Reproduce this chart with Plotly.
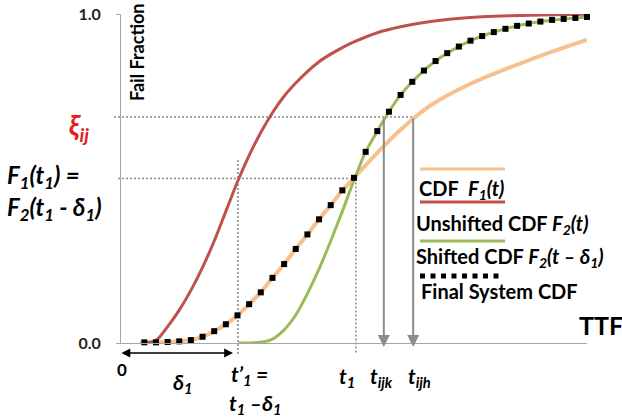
import plotly.graph_objects as go

# ---------------- data ----------------
# time axis: 0..100 (arbitrary units), fail fraction 0..1
t_f1 = [4, 5, 7.5, 10, 12.5, 15, 17.5, 20, 22.5, 25, 27.5, 30, 32.5, 35, 37.5, 40,
        42.5, 45, 47.5, 50, 55, 60, 65, 70, 75, 80, 85, 90, 95, 100]
cdf_f1 = [0, 0.001, 0.002, 0.003, 0.005, 0.009, 0.019, 0.036, 0.057, 0.084, 0.118,
          0.154, 0.198, 0.240, 0.286, 0.330, 0.376, 0.419, 0.464, 0.502, 0.578,
          0.648, 0.708, 0.752, 0.788, 0.818, 0.846, 0.873, 0.898, 0.921]

t_f2 = [4.7, 7.5, 10, 12.5, 15, 17.5, 20, 22.5, 25, 27.5, 30, 32.5, 35, 37.5, 40,
        42.5, 45, 47.5, 50, 55, 60, 65, 70, 75, 80, 90, 100]
cdf_f2 = [0, 0.008, 0.05, 0.10, 0.16, 0.23, 0.31, 0.40, 0.49, 0.57, 0.64, 0.70,
          0.75, 0.79, 0.825, 0.855, 0.878, 0.898, 0.915, 0.943, 0.961, 0.974, 0.983,
          0.989, 0.993, 0.997, 0.999]

t_f2s = [25.2, 27.5, 30, 32.5, 35, 37.5, 40, 42.5, 45, 47.5, 50, 52.5, 55, 57.5,
         60, 62.5, 65, 67.5, 70, 72.5, 75, 77.5, 80, 85, 90, 95, 100]
cdf_f2s = [0, 0, 0.002, 0.012, 0.04, 0.085, 0.15, 0.225, 0.31, 0.40, 0.495, 0.581,
           0.644, 0.703, 0.754, 0.794, 0.828, 0.857, 0.881, 0.901, 0.919, 0.933,
           0.945, 0.964, 0.977, 0.985, 0.991]

t_sys = [5, 7.5, 10, 12.5, 15, 17.5, 20, 22.5, 25, 27.5, 30, 32.5, 35, 37.5, 40,
         42.5, 45, 47.5, 50, 52.5, 55, 57.5, 60, 62.5, 65, 67.5, 70, 72.5, 75,
         77.5, 80, 82.5, 85, 87.5, 90, 92.5, 95, 97.5, 100]
cdf_sys = [0.002, 0.002, 0.003, 0.005, 0.009, 0.019, 0.036, 0.057, 0.084, 0.118,
           0.154, 0.198, 0.240, 0.286, 0.330, 0.376, 0.419, 0.464, 0.502, 0.581,
           0.644, 0.703, 0.754, 0.794, 0.828, 0.857, 0.881, 0.901, 0.919, 0.933,
           0.945, 0.955, 0.964, 0.971, 0.977, 0.982, 0.985, 0.988, 0.991]

t1_prime = 25.1     # t'1 = t1 - delta1
t1 = 50.4
t_ijk = 56.4
t_ijh = 62.7
level_f1 = 0.50     # F1(t1) = F2(t1 - delta1)
level_xi = 0.687    # xi_ij

ytick_vals = [0, 1]
ytick_text = ["0.0", "1.0"]

# ---------------- styles ----------------
ORANGE = "#F9C08F"
RED = "#C0504D"
GREEN = "#9BBB59"
GUIDE = "#8C8C8C"
AXIS = "#A6A6A6"
FONT = "Lato"

W, H = 622, 417
L, R, T, B = 121, 35, 14, 74
XR = [0, 100]
YR = [0, 1]
PW, PH = W - L - R, H - T - B


def fx(px):  # pixel -> paper x
    return (px - L) / PW


def fy(py):  # pixel -> paper y
    return (H - B - py) / PH


def xd(t):   # data x -> paper x
    return (t - XR[0]) / (XR[1] - XR[0])


def yd(v):   # data y -> paper y
    return (v - YR[0]) / (YR[1] - YR[0])


fig = go.Figure()

fig.add_trace(go.Scatter(x=t_f1, y=cdf_f1, mode="lines",
                         line=dict(color=ORANGE, width=4, shape="spline", smoothing=0.8),
                         hoverinfo="skip"))
fig.add_trace(go.Scatter(x=t_f2, y=cdf_f2, mode="lines",
                         line=dict(color=RED, width=3, shape="spline", smoothing=0.8),
                         hoverinfo="skip"))
fig.add_trace(go.Scatter(x=t_f2s, y=cdf_f2s, mode="lines",
                         line=dict(color=GREEN, width=3, shape="spline", smoothing=0.8),
                         hoverinfo="skip"))
fig.add_trace(go.Scatter(x=t_sys, y=cdf_sys, mode="markers",
                         marker=dict(symbol="square", size=6, color="black"),
                         hoverinfo="skip", cliponaxis=False))

# guide lines (dotted)
dot = dict(color=GUIDE, width=1.6, dash="2px,2px")
P = dict(xref="paper", yref="paper", layer="below")
fig.add_shape(type="line", x0=fx(114), x1=xd(t_ijh), y0=yd(level_xi), y1=yd(level_xi), line=dot, **P)
fig.add_shape(type="line", x0=fx(118), x1=xd(t1), y0=yd(level_f1), y1=yd(level_f1), line=dot, **P)
fig.add_shape(type="line", x0=xd(t1_prime), x1=xd(t1_prime), y0=fy(160), y1=fy(355), line=dot, **P)
fig.add_shape(type="line", x0=xd(t1), x1=xd(t1), y0=yd(level_f1), y1=fy(353), line=dot, **P)

# gray arrows down from xi level
xi_py = H - B - yd(level_xi) * PH
for tx in (t_ijk, t_ijh):
    fig.add_annotation(x=xd(tx), y=fy(347), xref="paper", yref="paper",
                       ax=0, ay=xi_py - 347, text="", showarrow=True,
                       arrowhead=2, arrowsize=1.2, arrowwidth=2, arrowcolor=GUIDE)

# black double arrow for delta1
fig.add_annotation(x=fx(233), y=fy(353), xref="paper", yref="paper",
                   ax=120 - 233, ay=0, text="", showarrow=True,
                   arrowhead=2, startarrowhead=2, arrowside="end+start",
                   arrowsize=1.1, startarrowsize=1.1, arrowwidth=1.6, arrowcolor="black")


def label(text, px, py, size, color="black", xanchor="center", angle=0):
    fig.add_annotation(x=fx(px), y=fy(py), xref="paper", yref="paper", text=text,
                       showarrow=False, xanchor=xanchor, yanchor="middle",
                       textangle=angle,
                       font=dict(family=FONT, size=size, color=color))


# x-axis labels
label("<b>0</b>", 122, 369, 17)
label("<b><i>δ<sub>1</sub></i></b>", 182, 383, 21)
label("<b><i>t’<sub>1</sub> =</i></b>", 249, 375, 21)
label("<b><i>t<sub>1</sub> –δ<sub>1</sub></i></b>", 255, 404, 21)
label("<b><i>t<sub>1</sub></i></b>", 347, 377, 21)
label("<b><i>t<sub>ijk</sub></i></b>", 381, 377, 21)
label("<b><i>t<sub>ijh</sub></i></b>", 419, 377, 21)
label("<b>TTF</b>", 601, 325, 25)

# left labels
label("<b><i>ξ<sub>ij</sub></i></b>", 79, 127, 28, color="#E3201B")
label("<b><i>F<sub>1</sub>(t<sub>1</sub>) =</i></b>", 5, 176, 24, xanchor="left")
label("<b><i>F<sub>2</sub>(t<sub>1</sub> - δ<sub>1</sub>)</i></b>", 5, 208, 24, xanchor="left")
label("<b>Fail Fraction</b>", 137, 53, 18, angle=-90)

# legend
LG = dict(xref="paper", yref="paper")
fig.add_shape(type="line", x0=fx(420), x1=fx(505), y0=fy(169), y1=fy(169),
              line=dict(color=ORANGE, width=3), **LG)
fig.add_shape(type="line", x0=fx(420), x1=fx(505), y0=fy(202), y1=fy(202),
              line=dict(color=RED, width=3), **LG)
fig.add_shape(type="line", x0=fx(420), x1=fx(505), y0=fy(241), y1=fy(241),
              line=dict(color=GREEN, width=3), **LG)
fig.add_shape(type="line", x0=fx(420), x1=fx(500), y0=fy(276), y1=fy(276),
              line=dict(color="black", width=5, dash="5px,5.5px"), **LG)
label("<b>CDF  <i>F<sub>1</sub>(t)</i></b>", 417, 189, 20, xanchor="left")
label("<b>Unshifted CDF <i>F<sub>2</sub>(t)</i></b>", 414, 224, 20, xanchor="left")
label("<b>Shifted CDF <i>F<sub>2</sub>(t – δ<sub>1</sub>)</i></b>", 414, 257, 20, xanchor="left")
label("<b>Final System CDF</b>", 419, 291, 20, xanchor="left")

fig.update_layout(
    template="none",
    width=W, height=H,
    margin=dict(l=L, r=R, t=T, b=B, pad=0, autoexpand=False),
    paper_bgcolor="white", plot_bgcolor="white",
    showlegend=False,
    xaxis=dict(range=XR, showgrid=False, zeroline=False, showline=True, automargin=False,
               linecolor=AXIS, linewidth=1, showticklabels=False, ticks=""),
    yaxis=dict(range=YR, showgrid=False, zeroline=False, showline=True, automargin=False,
               linecolor=AXIS, linewidth=1, tickmode="array",
               tickvals=ytick_vals, ticktext=["<b>%s</b>" % s for s in ytick_text],
               ticks="outside", ticklen=4, tickcolor=AXIS,
               tickfont=dict(family=FONT, size=16, color="#222222"),
               ticklabelstandoff=12),
)

fig.write_html("out.html",
               config={"displayModeBar": False, "staticPlot": True},
               post_script="document.body.style.margin='0px';document.body.style.overflow='hidden';")
